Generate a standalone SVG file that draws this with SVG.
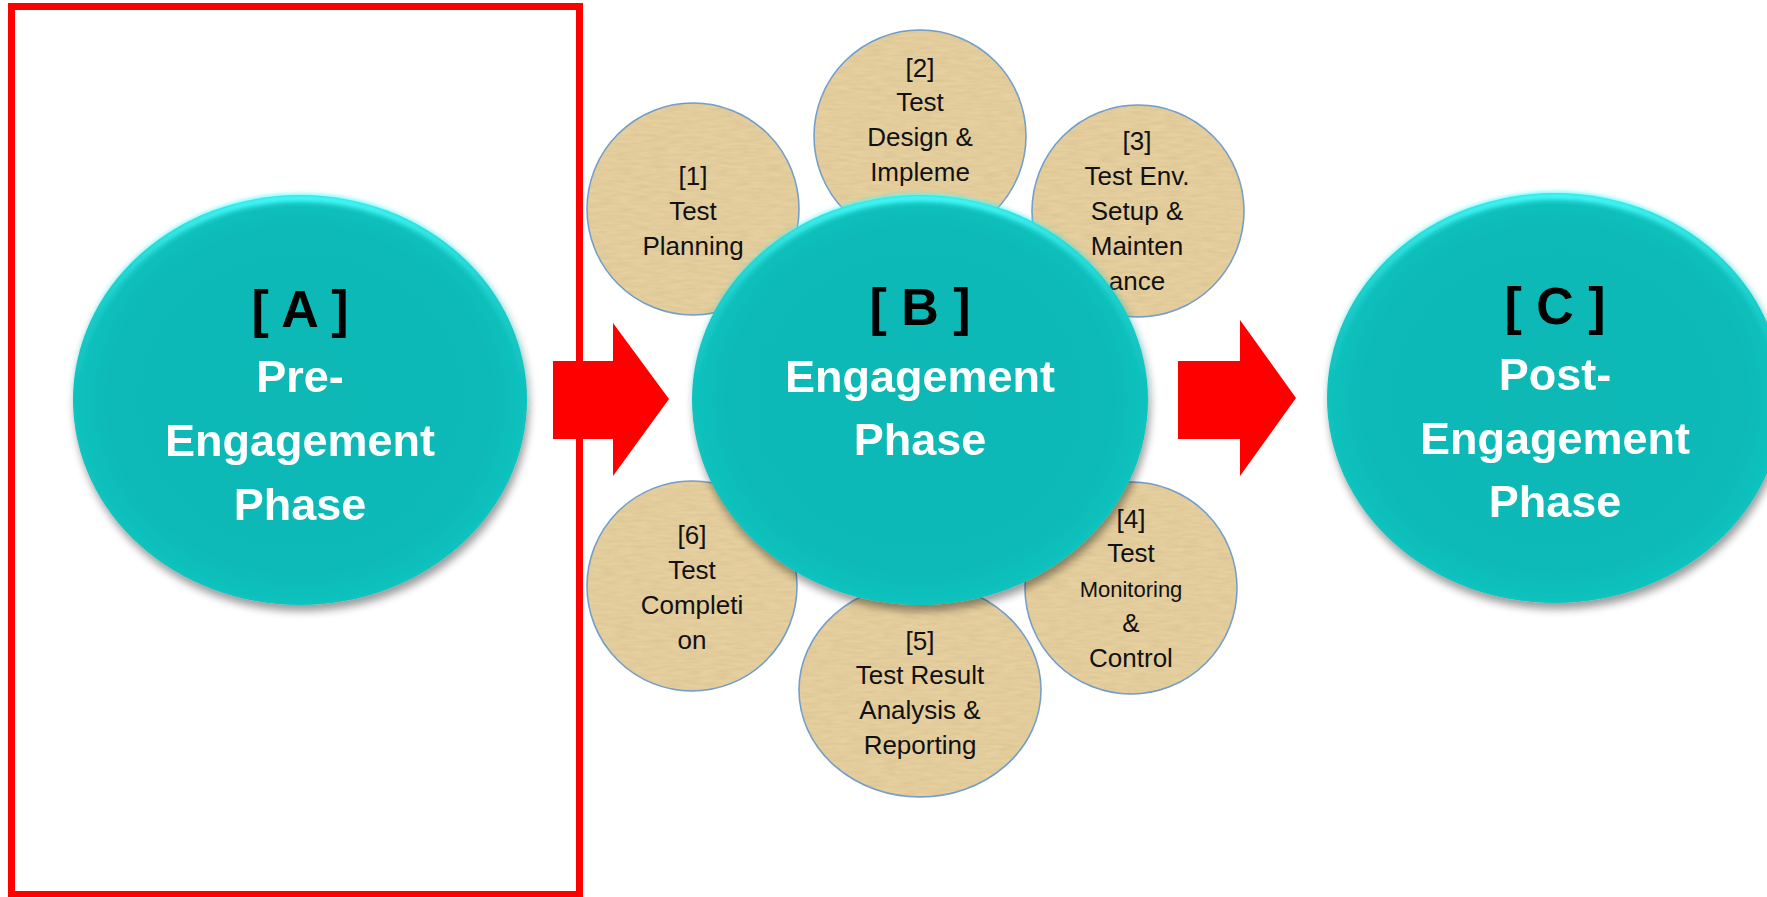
<svg xmlns="http://www.w3.org/2000/svg" width="1767" height="897" viewBox="0 0 1767 897">
<defs>
  <filter id="shadow" x="-20%" y="-20%" width="140%" height="140%">
    <feGaussianBlur in="SourceAlpha" stdDeviation="4"/>
    <feOffset dx="2" dy="6" result="b"/>
    <feComponentTransfer><feFuncA type="linear" slope="0.4"/></feComponentTransfer>
    <feMerge><feMergeNode/><feMergeNode in="SourceGraphic"/></feMerge>
  </filter>
  <filter id="soft" x="-10%" y="-10%" width="120%" height="120%">
    <feGaussianBlur stdDeviation="2.5"/>
  </filter>
  <filter id="paper" x="-5%" y="-5%" width="110%" height="110%">
    <feTurbulence type="fractalNoise" baseFrequency="0.06 0.35" numOctaves="2" seed="3" result="n"/>
    <feColorMatrix in="n" type="matrix" values="0 0 0 0 0.55  0 0 0 0 0.42  0 0 0 0 0.2  0 0 0 0.5 -0.1" result="c"/>
    <feComposite in="c" in2="SourceGraphic" operator="in" result="t"/>
    <feMerge><feMergeNode in="SourceGraphic"/><feMergeNode in="t"/></feMerge>
  </filter>
  <linearGradient id="rim" x1="0" y1="0" x2="0" y2="1">
    <stop offset="0" stop-color="#48FFFF" stop-opacity="1"/>
    <stop offset="0.25" stop-color="#30E6E4" stop-opacity="0.45"/>
    <stop offset="0.55" stop-color="#0BB9B6" stop-opacity="0"/>
  </linearGradient>
  <radialGradient id="body" cx="0.5" cy="0.5" r="0.5">
    <stop offset="0" stop-color="#0AB8B5"/>
    <stop offset="0.85" stop-color="#0BBAB7"/>
    <stop offset="1" stop-color="#12C2BE"/>
  </radialGradient>
</defs>
<style>
  .teal { fill: url(#body); }
  .rim { fill: none; stroke: url(#rim); stroke-width: 7; }
  .tan { fill: #E8D1A0; stroke: #5B9BD5; stroke-width: 1.5; }
  .st { font-family: "Liberation Sans", Arial, sans-serif; font-size: 26px; fill: #111; text-anchor: middle; }
  .sm { font-size: 22px; }
  .lab { font-family: "Liberation Sans", Arial, sans-serif; font-weight: bold; font-size: 52px; fill: #000; text-anchor: middle; }
  .big { font-family: "Liberation Sans", Arial, sans-serif; font-weight: bold; font-size: 45px; fill: #FFFFFF; text-anchor: middle; }
  .arrow { fill: #FF0000; }
</style>

<rect id="frame" x="11.5" y="6.5" width="568" height="888" fill="none" stroke="#FF0000" stroke-width="7"/>

<g id="connectors">
  <polygon class="arrow" points="553,361 613,361 613,323 669,399 613,476 613,439 553,439"/>
  <polygon class="arrow" points="1178,361 1240,361 1240,320 1296,398 1240,476 1240,439 1178,439"/>
</g>

<g id="nodeA" filter="url(#shadow)">
  <ellipse class="teal" cx="300" cy="400" rx="227" ry="205"/>
  <ellipse class="rim" cx="300" cy="400" rx="224" ry="202" filter="url(#soft)"/>
  <text class="lab" x="300" y="327">[ A ]</text>
  <text class="big" x="300" y="392">Pre-</text>
  <text class="big" x="300" y="456">Engagement</text>
  <text class="big" x="300" y="520">Phase</text>
</g>

<g id="step1">
  <circle class="tan" cx="693" cy="209" r="106" filter="url(#paper)"/>
  <text class="st" x="693" y="185">[1]</text>
  <text class="st" x="693" y="220">Test</text>
  <text class="st" x="693" y="255">Planning</text>
</g>
<g id="step2">
  <circle class="tan" cx="920" cy="136" r="106" filter="url(#paper)"/>
  <text class="st" x="920" y="77">[2]</text>
  <text class="st" x="920" y="111">Test</text>
  <text class="st" x="920" y="146">Design &amp;</text>
  <text class="st" x="920" y="181">Impleme</text>
</g>
<g id="step3">
  <circle class="tan" cx="1138" cy="211" r="106" filter="url(#paper)"/>
  <text class="st" x="1137" y="150">[3]</text>
  <text class="st" x="1137" y="185">Test Env.</text>
  <text class="st" x="1137" y="220">Setup &amp;</text>
  <text class="st" x="1137" y="255">Mainten</text>
  <text class="st" x="1137" y="290">ance</text>
</g>
<g id="step4">
  <circle class="tan" cx="1131" cy="588" r="106" filter="url(#paper)"/>
  <text class="st" x="1131" y="528">[4]</text>
  <text class="st" x="1131" y="562">Test</text>
  <text class="st sm" x="1131" y="597">Monitoring</text>
  <text class="st" x="1131" y="632">&amp;</text>
  <text class="st" x="1131" y="667">Control</text>
</g>
<g id="step5">
  <ellipse class="tan" cx="920" cy="690" rx="121" ry="107" filter="url(#paper)"/>
  <text class="st" x="920" y="650">[5]</text>
  <text class="st" x="920" y="684">Test Result</text>
  <text class="st" x="920" y="719">Analysis &amp;</text>
  <text class="st" x="920" y="754">Reporting</text>
</g>
<g id="step6">
  <circle class="tan" cx="692" cy="586" r="105" filter="url(#paper)"/>
  <text class="st" x="692" y="544">[6]</text>
  <text class="st" x="692" y="579">Test</text>
  <text class="st" x="692" y="614">Completi</text>
  <text class="st" x="692" y="649">on</text>
</g>

<g id="nodeB" filter="url(#shadow)">
  <ellipse class="teal" cx="920" cy="400" rx="228" ry="205"/>
  <ellipse class="rim" cx="920" cy="400" rx="225" ry="202" filter="url(#soft)"/>
  <text class="lab" x="920" y="325">[ B ]</text>
  <text class="big" x="920" y="392">Engagement</text>
  <text class="big" x="920" y="455">Phase</text>
</g>

<g id="nodeC" filter="url(#shadow)">
  <ellipse class="teal" cx="1555" cy="398" rx="228" ry="205"/>
  <ellipse class="rim" cx="1555" cy="398" rx="225" ry="202" filter="url(#soft)"/>
  <text class="lab" x="1555" y="324">[ C ]</text>
  <text class="big" x="1555" y="390">Post-</text>
  <text class="big" x="1555" y="454">Engagement</text>
  <text class="big" x="1555" y="517">Phase</text>
</g>
</svg>
